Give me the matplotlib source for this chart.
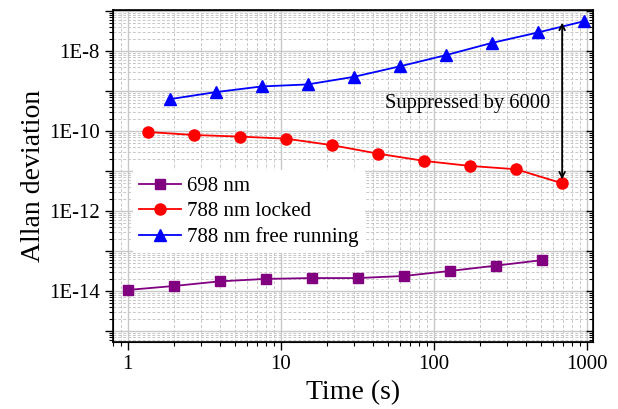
import numpy as np
import matplotlib
matplotlib.use("Agg")
import matplotlib.pyplot as plt
from matplotlib.ticker import LogLocator, FuncFormatter, NullFormatter

# data
t_698 = [1, 2, 4, 8, 16, 32, 64, 128, 256, 512]
adev_698 = [1.06e-14, 1.33e-14, 1.74e-14, 2.0e-14, 2.1e-14, 2.1e-14, 2.37e-14, 3.16e-14, 4.3e-14, 5.9e-14]
t_locked = [1.35, 2.7, 5.4, 10.8, 21.6, 43.2, 86.4, 172.8, 345.6, 691.2]
adev_locked = [9.4e-11, 7.9e-11, 7.2e-11, 6.4e-11, 4.4e-11, 2.7e-11, 1.78e-11, 1.33e-11, 1.1e-11, 4.9e-12]
t_free = [1.88, 3.75, 7.5, 15, 30, 60, 120, 240, 480, 960]
adev_free = [6.2e-10, 9.3e-10, 1.29e-9, 1.45e-9, 2.24e-9, 4.1e-9, 7.8e-9, 1.58e-8, 2.88e-8, 5.5e-8]
labels = ["698 nm", "788 nm locked", "788 nm free running"]
annot_text = "Suppressed by 6000"

plt.rcParams["font.family"] = ["Liberation Serif", "DejaVu Serif"]

YLIM = (5.3e-16, 1.05e-7)

fig = plt.figure(figsize=(6.18, 4.09), dpi=100)
ax = fig.add_axes([113 / 618, 1 - 342 / 409, 480 / 618, 332 / 409])

ax.plot(t_698, adev_698, "-s", color="#800080", lw=1.3, ms=7.5, label=labels[0])
ax.plot(t_locked, adev_locked, "-o", color="#ff0000", lw=1.3, ms=8, label=labels[1])
ax.plot(t_free, adev_free, "-^", color="#0000ff", lw=1.3, ms=9, label=labels[2])

ax.set_xscale("log")
ax.set_yscale("log")
ax.set_xlim(0.80, 1100)
ax.set_ylim(*YLIM)

ax.xaxis.set_major_locator(LogLocator(base=10, numticks=10))
ax.xaxis.set_minor_locator(LogLocator(base=10, subs=np.arange(2, 10), numticks=20))
ax.xaxis.set_major_formatter(FuncFormatter(lambda v, p: f"{v:g}"))
ax.xaxis.set_minor_formatter(NullFormatter())

ax.yaxis.set_major_locator(LogLocator(base=10, numticks=20))
ax.yaxis.set_minor_locator(LogLocator(base=10, subs=np.arange(2, 10), numticks=40))


def yfmt(v, p):
    e = int(round(np.log10(v)))
    return f"1E{e}" if e % 2 == 0 else ""


ax.yaxis.set_major_formatter(FuncFormatter(yfmt))
ax.yaxis.set_minor_formatter(NullFormatter())

ax.grid(True, which="major", color="#c8c8c8", lw=1.0, ls="-")
ax.grid(True, which="minor", color="#c8c8c8", lw=0.7, ls=(0, (3, 2)))
ax.set_axisbelow(True)

ax.tick_params(which="both", direction="out", labelsize=15, right=False, top=False)
ax.tick_params(which="major", length=6, width=1)
ax.tick_params(which="minor", length=3, width=0.8)
for s in ax.spines.values():
    s.set_color("black")
    s.set_linewidth(1.2)

# inward ticks on the right edge
axr = ax.twinx()
axr.set_yscale("log")
axr.set_ylim(*YLIM)
axr.yaxis.set_major_locator(LogLocator(base=10, numticks=20))
axr.yaxis.set_minor_locator(LogLocator(base=10, subs=np.arange(2, 10), numticks=40))
axr.yaxis.set_major_formatter(NullFormatter())
axr.yaxis.set_minor_formatter(NullFormatter())
axr.tick_params(which="both", direction="in")
axr.tick_params(which="major", length=5, width=1)
axr.tick_params(which="minor", length=3, width=0.8)

ax.set_xlabel("Time (s)", fontsize=20, labelpad=4)
ax.set_ylabel("Allan deviation", fontsize=20, labelpad=2)

leg = ax.legend(loc="upper left", bbox_to_anchor=(0.042, 0.518), borderaxespad=0,
                fontsize=15, frameon=True, fancybox=False, framealpha=1,
                facecolor="white", edgecolor="none", handlelength=2.0,
                handletextpad=0.3, labelspacing=0.28, borderpad=0.3)

# double-headed arrow between free running and locked at the last locked point
ax.annotate("", xy=(t_locked[-1], adev_free[-1] * 0.92), xytext=(t_locked[-1], adev_locked[-1] * 1.25),
            arrowprops=dict(arrowstyle="<->", color="black", lw=1.3, shrinkA=0, shrinkB=0))
ax.text(167, 4.9e-10, annot_text, fontsize=14.8, ha="center", va="center")

fig.savefig("out.png", dpi=100)
